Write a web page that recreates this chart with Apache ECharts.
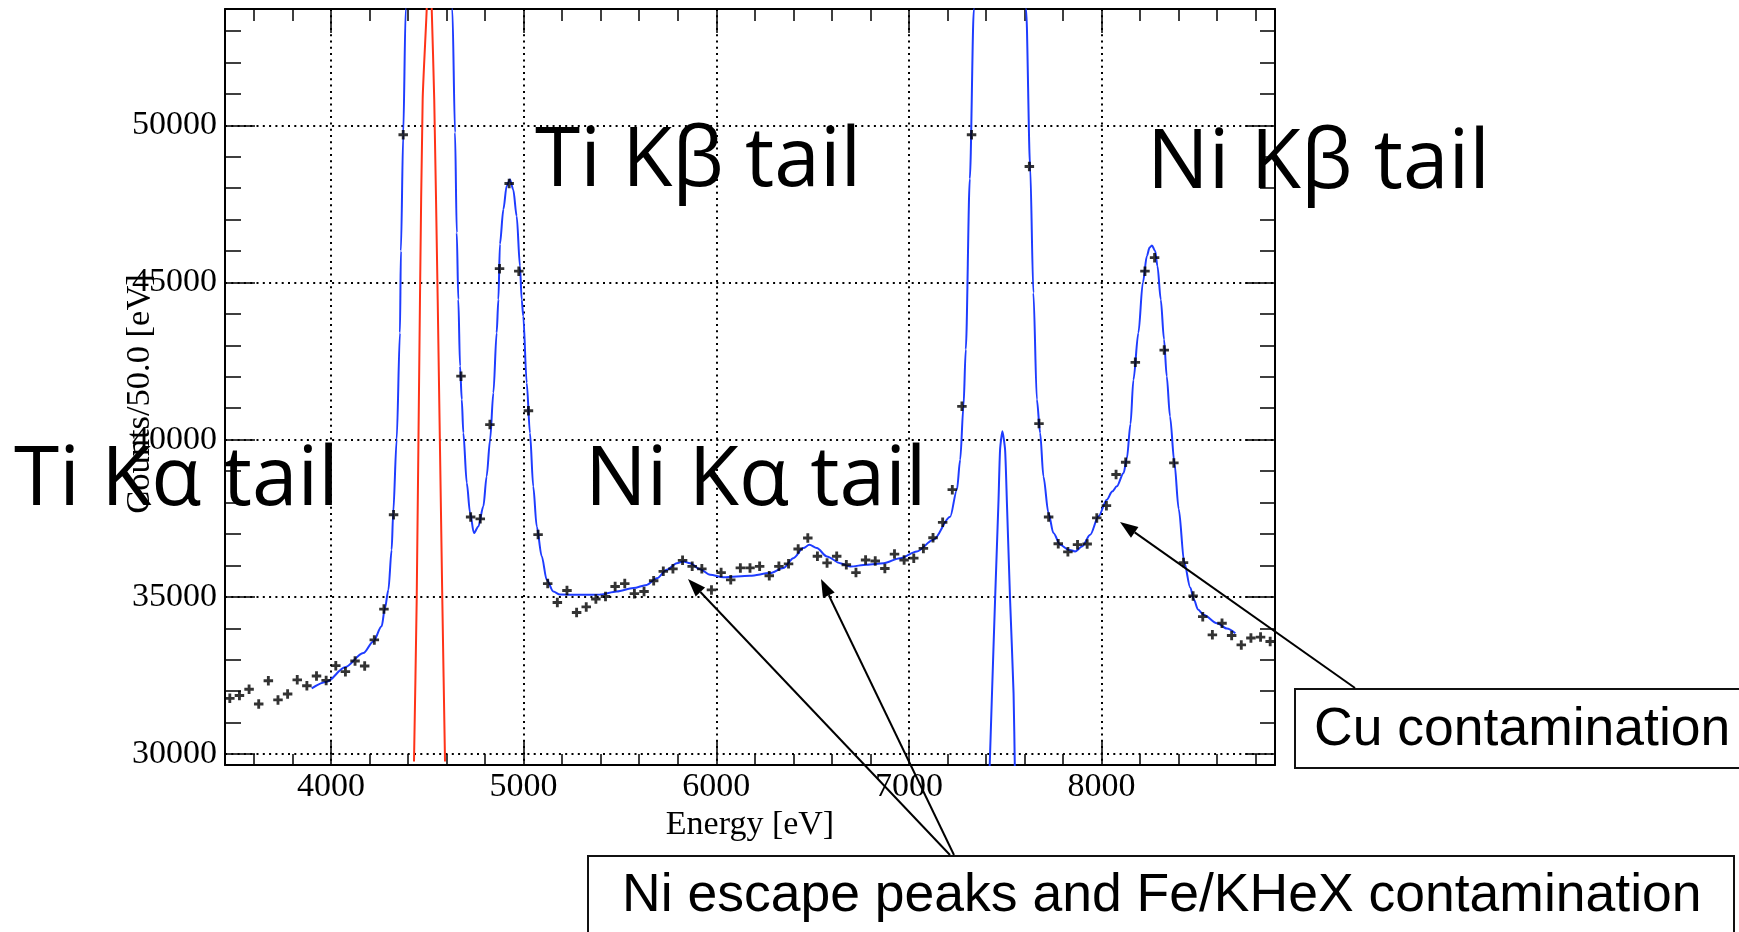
<!DOCTYPE html>
<html><head><meta charset="utf-8">
<script src="https://cdn.jsdelivr.net/npm/echarts@6/dist/echarts.min.js"></script>
<style>html,body{margin:0;padding:0;background:#fff;}#c{width:1739px;height:932px;}</style>
</head><body><div id="c"></div>
<script>
// ---- data ----
const binEnergy = [3475,3525,3575,3625,3675,3725,3775,3825,3875,3925,3975,
 4025,4075,4125,4175,4225,4275,4325,4375,4425,4475,4525,4575,4625,4675,4725,4775,4825,4875,4925,4975,
 5025,5075,5125,5175,5225,5275,5325,5375,5425,5475,5525,5575,5625,5675,5725,5775,5825,5875,5925,5975,
 6025,6075,6125,6175,6225,6275,6325,6375,6425,6475,6525,6575,6625,6675,6725,6775,6825,6875,6925,6975,
 7025,7075,7125,7175,7225,7275,7325,7375,7425,7475,7525,7575,7625,7675,7725,7775,7825,7875,7925,7975,
 8025,8075,8125,8175,8225,8275,8325,8375,8425,8475,8525,8575,8625,8675,8725,8775,8825,8875];
const binCounts = [31770,31860,32060,31590,32330,31720,31910,32360,32170,32480,32340,
 32810,32620,32960,32800,33630,34610,37610,49700,68000,90000,92000,72000,56000,42020,37540,37480,40480,45440,48150,45360,
 40920,36980,35420,34820,35200,34500,34680,34930,35010,35330,35420,35100,35170,35510,35810,35890,36160,35970,35890,35220,
 35770,35540,35920,35920,35970,35670,35970,36050,36520,36870,36290,36080,36290,36020,35770,36170,36140,35900,36360,36170,
 36230,36540,36880,37370,38410,41060,49700,70000,88000,95000,86000,66000,48690,40510,37540,36690,36430,36660,36680,37510,
 37900,38890,39280,42460,45360,45790,42850,39260,36090,35030,34370,33790,34160,33770,33470,33690,33720,33580];

const fitEnergy = [3900,3978,4073,4168,4220,4263,4280,4298,4315,4323,4341,4358,4363,4375,4388,4450,4510,4570,
 4630,4644,4653,4661,4670,4679,4687,4705,4722,4742,4765,4791,4808,4826,4843,4860,4869,4877,4895,4912,4929,4946,4964,4981,4990,
 4998,5016,5033,5050,5068,5094,5120,5154,5189,5300,5397,5483,5570,5639,5691,5743,5795,5829,5864,5916,5968,6037,6175,6279,6348,
 6400,6452,6483,6522,6574,6643,6695,6781,6868,6954,7041,7127,7214,7249,7266,7283,7295,7316,7337,7400,7480,7560,
 7608,7629,7646,7664,7681,7698,7724,7750,7785,7828,7863,7898,7941,7984,8027,8055,8079,8114,8131,8150,8165,8191,8214,8235,8249,
 8261,8278,8290,8307,8324,8338,8355,8378,8400,8429,8460,8480,8500,8529,8599,8650,8694];
const fitCounts = [32090,32300,32760,33210,33580,34060,34640,35220,36500,37670,40000,43400,46000,49700,53700,70000,80000,70000,
 53700,49770,46580,44460,42340,41280,40220,38620,37670,37030,37240,37880,38830,40000,41490,43400,44460,46220,47330,48070,48280,47960,47110,45520,44460,
 43930,41810,40210,38510,37240,36290,35540,35170,35070,35065,35070,35170,35280,35380,35590,35860,36070,36125,36070,35880,35700,35620,35670,35755,35915,
 36230,36550,36655,36550,36285,36070,35965,36020,36070,36230,36445,36815,37550,38410,39360,41060,42870,48300,53700,70000,80000,70000,
 53700,48700,44670,41280,40215,38830,37670,37030,36655,36500,36445,36600,36975,37560,38090,38350,38515,38940,39400,40500,41900,43400,44990,45840,46110,
 46180,46000,45520,44460,43190,42020,40740,39260,37800,36090,35300,34900,34600,34430,34160,33990,33840];

const narrowEnergy = [7418,7430,7447,7465,7473,7485,7499,7508,7525,7543,7550];
const narrowCounts = [29400,31720,34900,38090,39680,40270,39680,38090,34900,31930,29400];

const tiEnergy = [4431,4445,4462,4476,4497,4510,4523,4536,4554,4578,4592];
const tiCounts = [29760,34900,44460,50830,53700,56500,53700,50830,44460,34900,29760];

const xMajorTicks = [4000,5000,6000,7000,8000];
const xMinorTicks = [3600,3800,4200,4400,4600,4800,5200,5400,5600,5800,6200,6400,6600,6800,7200,7400,7600,7800,8200,8400,8600,8800];
const yMajorTicks = [30000,35000,40000,45000,50000];
const yMinorTicks = [31000,32000,33000,34000,36000,37000,38000,39000,41000,42000,43000,44000,46000,47000,48000,49000,51000,52000,53000];

const xTitle = 'Energy [eV]';
const yTitle = 'Counts/50.0 [eV]';
const bigLabels = ['Ti K\u03b2 tail','Ni K\u03b2 tail','Ti K\u03b1 tail','Ni K\u03b1 tail'];
const boxLabels = ['Cu contamination','Ni escape peaks and Fe/KHeX contamination'];

// ---- chart ----
const zip = (a,b)=>a.map((v,i)=>[v,b[i]]);
const serif = "'Liberation Serif','Times New Roman',serif";
const sans = "'Liberation Sans',Arial,sans-serif";
const gill = "'Open Sans','Noto Sans',sans-serif";
const X_MIN=3450, X_MAX=8900, Y_MIN=29650, Y_MAX=53700;
const plain = v => String(v);

function xAx(pos, ticks, len, main){
  return {type:'value', min:X_MIN, max:X_MAX, position:pos,
    axisLine:{show:main, onZero:false, lineStyle:{color:'#000',width:2}},
    axisTick:{show:true, inside:true, length:len, customValues:ticks, lineStyle:{color:'#000',width:1.5}},
    axisLabel:{show:false}, splitLine:{show:false}};
}
function yAx(pos, ticks, len, main){
  return {type:'value', min:Y_MIN, max:Y_MAX, position:pos,
    axisLine:{show:main, onZero:false, lineStyle:{color:'#000',width:2}},
    axisTick:{show:true, inside:true, length:len, customValues:ticks, lineStyle:{color:'#000',width:1.5}},
    axisLabel:{show:false}, splitLine:{show:false}};
}
const xMain = xAx('bottom', xMajorTicks, 24, true);
xMain.axisLabel = {show:true, customValues:xMajorTicks, formatter:plain, margin:5, color:'#000', fontFamily:serif, fontSize:34};
xMain.splitLine = {show:true, lineStyle:{color:'#000', width:2, type:[2,4.3]}};
xMain.name = xTitle; xMain.nameLocation='middle'; xMain.nameGap=43; xMain.nameMoveOverlap=false;
xMain.nameTextStyle = {color:'#000', fontFamily:serif, fontSize:34};
const yMain = yAx('left', yMajorTicks, 30, true);
yMain.axisLabel = {show:true, customValues:yMajorTicks, formatter:plain, margin:8, color:'#000', fontFamily:serif, fontSize:34};
yMain.splitLine = {show:true, lineStyle:{color:'#000', width:2, type:[2,4.3]}};
yMain.name = yTitle; yMain.nameLocation='middle'; yMain.nameGap=68; yMain.nameMoveOverlap=false;
yMain.nameTextStyle = {color:'#000', fontFamily:serif, fontSize:34.5, padding:[0,14,0,0]};

const plusPath = 'path://M-0.9,-3H0.9V-0.9H3V0.9H0.9V3H-0.9V0.9H-3V-0.9H-0.9Z';

function arrow(x1,y1,x2,y2){
  const a=Math.atan2(y2-y1,x2-x1), L=18, W=6.5;
  const bx=x2-L*Math.cos(a), by=y2-L*Math.sin(a);
  const px=-Math.sin(a)*W, py=Math.cos(a)*W;
  return [
    {type:'line', z:50, shape:{x1:x1,y1:y1,x2:bx,y2:by}, style:{stroke:'#000',lineWidth:2}},
    {type:'polygon', z:50, shape:{points:[[x2,y2],[bx+px,by+py],[bx-px,by-py]]}, style:{fill:'#000'}}
  ];
}
const OS_MID = 0.315, AR_MID = 0.3465;
function bigText(t, x, base){
  return {type:'text', z:60, x:x, y:base-OS_MID*82, style:{text:t, font:"82px "+gill, fill:'#000', align:'left', verticalAlign:'middle'}};
}
function boxText(t, x, base){
  return {type:'text', z:60, x:x, y:base-AR_MID*53.5, style:{text:t, font:"53.5px "+sans, fill:'#000', align:'left', verticalAlign:'middle'}};
}

const graphics = [].concat(
  [{type:'rect', z:40, shape:{x:1295,y:689,width:480,height:79}, style:{fill:'#fff',stroke:'#111',lineWidth:2}},
   {type:'rect', z:40, shape:{x:588,y:856,width:1146,height:120}, style:{fill:'#fff',stroke:'#111',lineWidth:2}}],
  arrow(1355,688,1120,522),
  arrow(950,855,688,579),
  arrow(954,855,821,579),
  [boxText(boxLabels[0],1314,748.3), boxText(boxLabels[1],622,915),
   bigText(bigLabels[0],535,188), bigText(bigLabels[1],1147,190),
   bigText(bigLabels[2],14,507), bigText(bigLabels[3],585,507)]
);

const option = {
  animation:false, backgroundColor:'#fff',
  grid:{left:225, right:464, top:9, bottom:167, containLabel:false},
  xAxis:[xMain, xAx('bottom', xMinorTicks, 11, false), xAx('top', xMajorTicks, 24, true), xAx('top', xMinorTicks, 12, false)],
  yAxis:[yMain, yAx('left', yMinorTicks, 16, false), yAx('right', yMajorTicks, 30, true), yAx('right', yMinorTicks, 15, false)],
  series:[
    {type:'line', data:zip(tiEnergy,tiCounts), showSymbol:false, smooth:0.2, clip:true, lineStyle:{color:'#ff3318',width:2}, itemStyle:{color:'#ff3318'}, z:3},
    {type:'line', data:zip(narrowEnergy,narrowCounts), showSymbol:false, smooth:0.2, clip:true, lineStyle:{color:'#1e3cff',width:2}, itemStyle:{color:'#1e3cff'}, z:3},
    {type:'line', data:zip(fitEnergy,fitCounts), showSymbol:false, smooth:0.3, smoothMonotone:'x', clip:true, lineStyle:{color:'#1e3cff',width:2}, itemStyle:{color:'#1e3cff'}, z:3},
    {type:'scatter', data:zip(binEnergy,binCounts), symbol:plusPath, symbolSize:9.5, clip:true, itemStyle:{color:'#000'}, z:4}
  ],
  graphic:graphics
};
const chart = echarts.init(document.getElementById('c'));
chart.setOption(option);
</script></body></html>
